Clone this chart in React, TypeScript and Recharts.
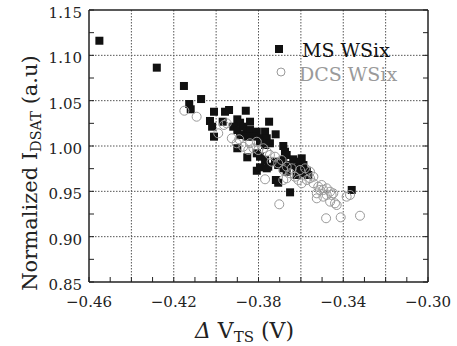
import React from 'react';
import { ScatterChart, Scatter, XAxis, YAxis, CartesianGrid, Legend } from 'recharts';

// MS WSix (black squares)
const msX = [
  -0.4551, -0.428, -0.4152, -0.4127, -0.412, -0.4071, -0.401, -0.3958, -0.3939, -0.386,
  -0.4029, -0.4019, -0.3969, -0.39, -0.3887, -0.384, -0.375, -0.3719, -0.401, -0.3919,
  -0.39, -0.3872, -0.3856, -0.384, -0.3808, -0.3769, -0.3887, -0.3856, -0.3824, -0.3793,
  -0.3761, -0.3793, -0.3769, -0.3746, -0.3683, -0.3675, -0.39, -0.3853, -0.3808, -0.3793,
  -0.3769, -0.3754, -0.3722, -0.3707, -0.3683, -0.3667, -0.3808, -0.3793, -0.3636, -0.3596,
  -0.3607, -0.3588, -0.3651, -0.362, -0.3683, -0.3667, -0.3572, -0.3565, -0.3707, -0.3718,
  -0.3651, -0.336, -0.3761, -0.362, -0.3596,
];
const msY = [
  1.1161, 1.0864, 1.0662, 1.0463, 1.0405, 1.0518, 1.0378, 1.0378, 1.0397, 1.0389,
  1.0276, 1.0213, 1.0268, 1.0294, 1.0257, 1.0268, 1.0268, 1.0129, 1.0103, 1.0213,
  1.0176, 1.0213, 1.0158, 1.0176, 1.0158, 1.0158, 1.0121, 1.0103, 1.0103, 1.0085,
  1.0085, 1.0047, 1.0011, 1.003, 1.0, 0.9937, 0.9975, 0.9875, 0.9919, 0.9882,
  0.9845, 0.9772, 0.9827, 0.979, 0.9845, 0.9901, 0.9727, 0.9765, 0.9853, 0.9864,
  0.9827, 0.979, 0.979, 0.9765, 0.9754, 0.9716, 0.9727, 0.968, 0.9595, 0.9625,
  0.9489, 0.9515, 0.9754, 0.968, 0.9699,
];

// DCS WSix (grey circles)
const dcsX = [
  -0.415, -0.4092, -0.399, -0.3963, -0.395, -0.3926, -0.3891, -0.3903, -0.3872, -0.3848,
  -0.3824, -0.3801, -0.3777, -0.3761, -0.384, -0.3808, -0.3746, -0.3722, -0.3738, -0.3707,
  -0.3691, -0.3769, -0.3702, -0.3683, -0.3667, -0.3651, -0.3643, -0.3628, -0.3667, -0.3683,
  -0.3612, -0.3596, -0.3572, -0.3557, -0.3541, -0.3604, -0.358, -0.3557, -0.3541, -0.3518,
  -0.3502, -0.3494, -0.3478, -0.3462, -0.3447, -0.3525, -0.3494, -0.3462, -0.3439, -0.3431,
  -0.3478, -0.3455, -0.3384, -0.3368, -0.3481, -0.3412, -0.3321, -0.3525, -0.351,
];
const dcsY = [
  1.0389, 1.0323, 1.014, 1.0232, 1.025, 1.0085, 1.0074, 1.003, 0.9992, 0.9956,
  0.9975, 0.9956, 0.9975, 0.9937, 1.003, 1.0047, 0.9901, 0.9882, 0.9827, 0.9809,
  0.9845, 0.9633, 0.9357, 0.9735, 0.9772, 0.9699, 0.9754, 0.9661, 0.9644, 0.9625,
  0.9625, 0.9589, 0.9625, 0.9644, 0.9661, 0.9735, 0.9754, 0.9716, 0.9589, 0.9551,
  0.957, 0.9515, 0.9533, 0.9496, 0.9478, 0.9423, 0.9441, 0.9386, 0.9368, 0.9349,
  0.946, 0.946, 0.9441, 0.946, 0.9203, 0.9213, 0.9231, 0.9478, 0.9515,
];

const xTicks = [
  -0.46, -0.45, -0.44, -0.43, -0.42, -0.41, -0.4, -0.39, -0.38,
  -0.37, -0.36, -0.35, -0.34, -0.33, -0.32, -0.31, -0.3,
];
const xLabelVals = [-0.46, -0.42, -0.38, -0.34, -0.3];
const xGrid = [-0.44, -0.42, -0.4, -0.38, -0.36, -0.34, -0.32];
const yTicks = [0.85, 0.875, 0.9, 0.925, 0.95, 0.975, 1.0, 1.025, 1.05, 1.075, 1.1, 1.125, 1.15];
const yLabelVals = [0.85, 0.9, 0.95, 1.0, 1.05, 1.1, 1.15];
const yGrid = [0.9, 0.95, 1.0, 1.05, 1.1];

const msData = msX.map((x, i) => ({ x, y: msY[i] }));
const dcsData = dcsX.map((x, i) => ({ x, y: dcsY[i] }));

const FONT = '"DejaVu Serif", serif';
const GREY = '#9a9a9a';
const TICK_LEN = 5;

const BottomTick = (props: any) => {
  const { x, y, payload } = props;
  const show = xLabelVals.includes(payload.value);
  return (
    <g>
      <line x1={x} x2={x} y1={y} y2={y - TICK_LEN} stroke="#222" />
      {show && (
        <text x={x} y={y + 25} textAnchor="middle" fontFamily={FONT} fontSize={15} fill="#222">
          {payload.value.toFixed(2).replace('-', '\u2212')}
        </text>
      )}
    </g>
  );
};

const TopTick = (props: any) => {
  const { x, y } = props;
  return <line x1={x} x2={x} y1={y} y2={y + TICK_LEN} stroke="#222" />;
};

const LeftTick = (props: any) => {
  const { x, y, payload } = props;
  const show = yLabelVals.includes(payload.value);
  return (
    <g>
      <line x1={x} x2={x + TICK_LEN} y1={y} y2={y} stroke="#222" />
      {show && (
        <text x={x - 7} y={y + 8} textAnchor="end" fontFamily={FONT} fontSize={15} fill="#222">
          {payload.value.toFixed(2)}
        </text>
      )}
    </g>
  );
};

const RightTick = (props: any) => {
  const { x, y } = props;
  return <line x1={x} x2={x - TICK_LEN} y1={y} y2={y} stroke="#222" />;
};

const YTitle = (props: any) => {
  const vb = props.viewBox;
  const cx = vb.x + 37;
  const cy = vb.y + vb.height / 2 + 27;
  return (
    <text
      x={cx}
      y={cy}
      transform={`rotate(-90, ${cx}, ${cy})`}
      textAnchor="middle"
      fontFamily={FONT}
      fontSize={21}
      fill="#222"
    >
      Normalized I
      <tspan fontSize={14.5} dy={4}>DSAT</tspan>
      <tspan dy={-4}> (a.u)</tspan>
    </text>
  );
};

const XTitle = (props: any) => {
  const vb = props.viewBox;
  const cx = vb.x + vb.width / 2 - 14;
  const cy = vb.y + 56;
  return (
    <text x={cx} y={cy} textAnchor="middle" fontFamily={FONT} fontSize={22} fill="#222">
      <tspan fontStyle="italic">{'\u0394'}</tspan>
      {' V'}
      <tspan fontSize={15} dy={4}>TS</tspan>
      <tspan dy={-4}> (V)</tspan>
    </text>
  );
};

const Square = (props: any) => (
  <rect x={props.cx - 4} y={props.cy - 4} width={8} height={8} fill="#111" />
);

const Ring = (props: any) => (
  <circle cx={props.cx} cy={props.cy} r={4.5} fill="none" stroke={GREY} strokeWidth={1} />
);

const LegendBox = () => (
  <svg width={150} height={52} style={{ display: 'block' }}>
    <rect x={5} y={9} width={8} height={8} fill="#111" />
    <text x={32} y={21} fontFamily={FONT} fontSize={19} fill="#111">MS WSix</text>
    <circle cx={11} cy={36} r={4} fill="none" stroke={GREY} />
    <text x={29} y={45} fontFamily={FONT} fontSize={19} fill={GREY}>DCS WSix</text>
  </svg>
);

export default function App() {
  return (
    <div style={{ position: 'absolute', left: 0, top: 0, background: '#fff' }}>
      <ScatterChart width={457} height={346} margin={{ top: 0, right: 0, bottom: 0, left: 0 }}>
        <CartesianGrid
          verticalValues={xGrid}
          horizontalValues={yGrid}
          stroke="#555"
          strokeDasharray="1.5 1.5"
        />
        <XAxis
          type="number"
          dataKey="x"
          domain={[-0.46, -0.3]}
          ticks={xTicks}
          interval={0}
          height={64}
          tickSize={0}
          tickMargin={0}
          tickLine={false}
          tick={<BottomTick />}
          axisLine={{ stroke: '#222', strokeWidth: 1.5 }}
          allowDataOverflow
          label={{ content: (p: any) => <XTitle {...p} /> }}
        />
        <XAxis
          xAxisId="top"
          orientation="top"
          type="number"
          domain={[-0.46, -0.3]}
          ticks={xTicks}
          interval={0}
          height={10}
          tickSize={0}
          tickMargin={0}
          tickLine={false}
          tick={<TopTick />}
          axisLine={{ stroke: '#222', strokeWidth: 1.5 }}
          allowDataOverflow
        />
        <YAxis
          type="number"
          dataKey="y"
          domain={[0.85, 1.15]}
          ticks={yTicks}
          interval={0}
          width={89}
          tickSize={0}
          tickMargin={0}
          tickLine={false}
          tick={<LeftTick />}
          axisLine={{ stroke: '#222', strokeWidth: 1.5 }}
          allowDataOverflow
          label={{ content: (p: any) => <YTitle {...p} /> }}
        />
        <YAxis
          yAxisId="right"
          orientation="right"
          type="number"
          domain={[0.85, 1.15]}
          ticks={yTicks}
          interval={0}
          width={29}
          tickSize={0}
          tickMargin={0}
          tickLine={false}
          tick={<RightTick />}
          axisLine={{ stroke: '#222', strokeWidth: 1.5 }}
          allowDataOverflow
        />
        <Legend
          layout="horizontal"
          verticalAlign="middle"
          align="center"
          wrapperStyle={{ top: 36, left: 270, width: 150, height: 52 }}
          content={() => <LegendBox />}
        />
        <Scatter name="MS WSix" data={msData} shape={Square} isAnimationActive={false} />
        <Scatter name="DCS WSix" data={dcsData} shape={Ring} isAnimationActive={false} />
      </ScatterChart>
    </div>
  );
}
